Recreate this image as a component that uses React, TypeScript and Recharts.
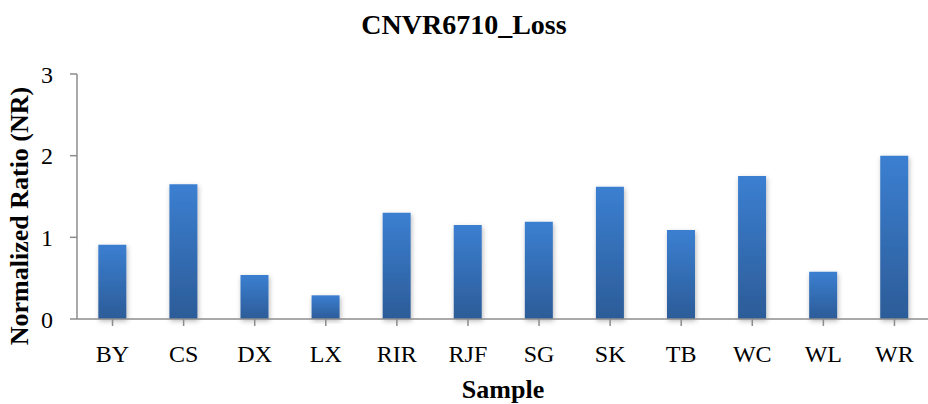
import React from 'react';
import { BarChart, Bar, XAxis, YAxis } from 'recharts';

const samples = ['BY', 'CS', 'DX', 'LX', 'RIR', 'RJF', 'SG', 'SK', 'TB', 'WC', 'WL', 'WR'];
const ratios = [0.91, 1.65, 0.54, 0.29, 1.3, 1.15, 1.19, 1.62, 1.09, 1.75, 0.58, 2.0];
const yTicks = [0, 1, 2, 3];

const data = samples.map((name, i) => ({ name, value: ratios[i] }));

const SERIF = '"Liberation Serif", "Times New Roman", serif';
const AXIS_GRAY = '#8c8c8c';

// tick text renderers (serif, like the rest of the figure)
const XTick = ({ x, y, payload }: any) => (
  <text x={x} y={y} dy="0.71em" textAnchor="middle" fontFamily={SERIF} fontSize={24} fill="#000">
    {payload.value}
  </text>
);

const YTick = ({ x, y, payload }: any) => (
  <text x={x} y={y} dy="0.355em" textAnchor="end" fontFamily={SERIF} fontSize={24} fill="#000">
    {payload.value}
  </text>
);

// rotated y axis title, drawn by hand so it sits where we want it
const YTitle = () => (
  <text
    x={28}
    y={216}
    transform="rotate(-90 28 216)"
    textAnchor="middle"
    fontFamily={SERIF}
    fontWeight="bold"
    fontSize={26}
    fill="#000"
  >
    Normalized Ratio (NR)
  </text>
);

const XTitle = () => (
  <text
    x={503}
    y={398}
    textAnchor="middle"
    fontFamily={SERIF}
    fontWeight="bold"
    fontSize={26}
    fill="#000"
  >
    Sample
  </text>
);

export default function App() {
  return (
    <div
      style={{
        position: 'absolute',
        left: 0,
        top: 0,
        width: 928,
        height: 404,
        background: '#fff',
        fontFamily: SERIF,
      }}
    >
      <div
        style={{
          position: 'absolute',
          left: 0,
          top: 8,
          width: 928,
          textAlign: 'center',
          fontWeight: 'bold',
          fontSize: 28,
          lineHeight: '34px',
        }}
      >
        CNVR6710_Loss
      </div>
      <BarChart
        width={928}
        height={404}
        data={data}
        margin={{ top: 74, right: -2, bottom: 0, left: 0 }}
        barCategoryGap="30%"
      >
        <defs>
          <linearGradient id="barFill" x1="0" y1="0" x2="0" y2="1">
            <stop offset="0%" stopColor="#3b7fd1" />
            <stop offset="100%" stopColor="#2c5c98" />
          </linearGradient>
          <filter id="barShadow" x="-30%" y="-10%" width="160%" height="130%">
            <feDropShadow dx="1" dy="2" stdDeviation="2.5" floodColor="#000" floodOpacity="0.28" />
          </filter>
        </defs>
        <XAxis
          dataKey="name"
          height={85}
          stroke={AXIS_GRAY}
          strokeWidth={1.5}
          tickSize={7}
          tickMargin={19}
          tick={<XTick />}
          interval={0}
          label={<XTitle />}
        />
        <YAxis
          width={77}
          domain={[0, 3]}
          ticks={yTicks}
          stroke={AXIS_GRAY}
          strokeWidth={1.5}
          tickSize={7}
          tickMargin={17}
          tick={<YTick />}
          label={<YTitle />}
        />
        <Bar
          dataKey="value"
          fill="url(#barFill)"
          filter="url(#barShadow)"
          isAnimationActive={false}
        />
      </BarChart>
    </div>
  );
}
